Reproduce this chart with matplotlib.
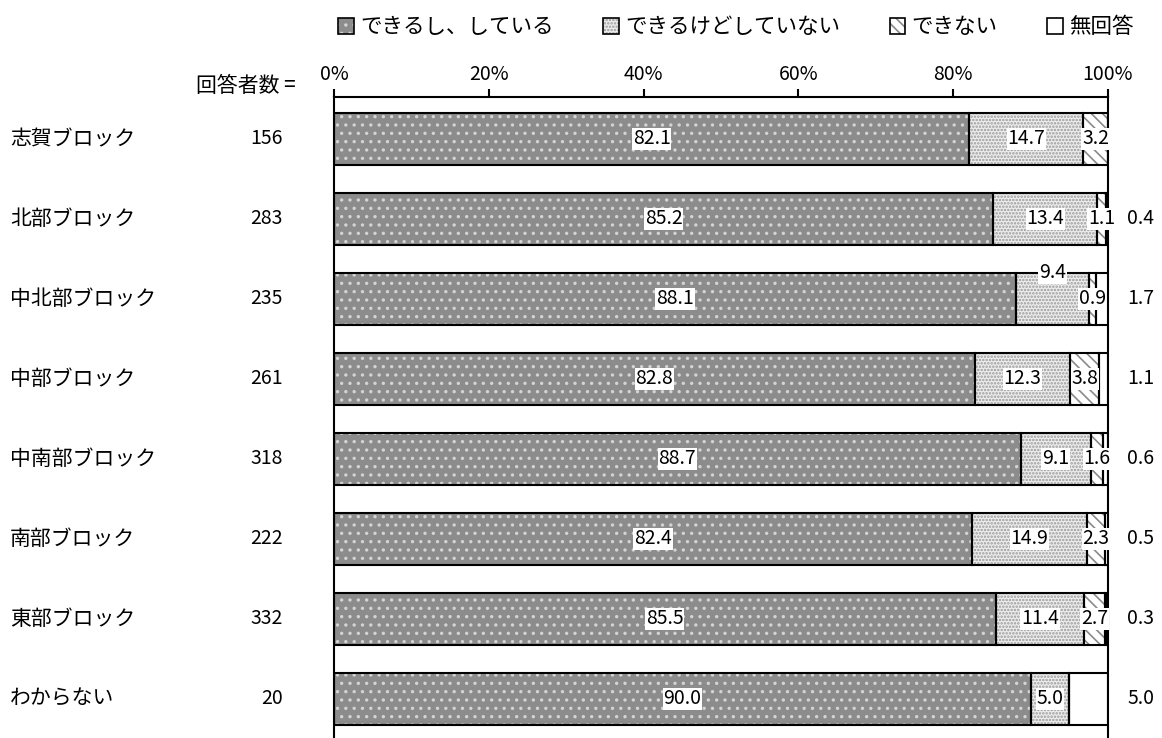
import matplotlib
matplotlib.use('Agg')
import matplotlib.pyplot as plt
from matplotlib.patches import Patch
from matplotlib.legend_handler import HandlerTuple
import numpy as np

plt.rcParams['font.family'] = ['Noto Sans CJK JP', 'DejaVu Sans']
plt.rcParams['hatch.linewidth'] = 1.2

# data
categories = ['志賀ブロック', '北部ブロック', '中北部ブロック', '中部ブロック',
              '中南部ブロック', '南部ブロック', '東部ブロック', 'わからない']
counts = [156, 283, 235, 261, 318, 222, 332, 20]
series_names = ['できるし、している', 'できるけどしていない', 'できない', '無回答']
doing = [82.1, 85.2, 88.1, 82.8, 88.7, 82.4, 85.5, 90.0]
can_not_doing = [14.7, 13.4, 9.4, 12.3, 9.1, 14.9, 11.4, 5.0]
cannot = [3.2, 1.1, 0.9, 3.8, 1.6, 2.3, 2.7, 0.0]
no_answer = [0.0, 0.4, 1.7, 1.1, 0.6, 0.5, 0.3, 5.0]
ticks = [0, 20, 40, 60, 80, 100]

values = [doing, can_not_doing, cannot, no_answer]
faces = ['#8c8c8c', '#ededed', 'white', 'white']
hatches = ['..', '.....', '\\\\\\', '']
hatch_colors = ['#d4d4d4', '#9a9a9a', '#8a8a8a', 'white']

fig = plt.figure(figsize=(11.62, 7.38), dpi=100)
ax = fig.add_axes([334 / 1162, 0, 774 / 1162, 1 - 97 / 738])

y = np.arange(len(categories))
left = np.zeros(len(categories))
handles = []
for vals, fc, h, hc in zip(values, faces, hatches, hatch_colors):
    vals = np.array(vals)
    ax.barh(y, vals, left=left, height=0.65, color=fc, hatch=h,
            edgecolor=hc, linewidth=0, zorder=2)
    ax.barh(y, vals, left=left, height=0.65, fill=False,
            edgecolor='black', linewidth=1.5, zorder=3)
    handles.append((Patch(facecolor=fc, hatch=h, edgecolor=hc, linewidth=0),
                    Patch(fill=False, edgecolor='black', linewidth=1.2)))
    left += vals

# value labels
fs = 14
box = dict(facecolor='white', edgecolor='none', pad=0.5)
for i in range(len(categories)):
    start = 0
    for k in range(3):
        v = values[k][i]
        if v > 0:
            yy = y[i]
            if k == 1 and i == 2:
                yy = y[i] - 0.33
            ax.text(start + v / 2, yy, f'{v:.1f}', ha='center', va='center',
                    fontsize=fs, bbox=box, zorder=5)
        start += v
    if no_answer[i] > 0:
        ax.text(104.2, y[i], f'{no_answer[i]:.1f}', ha='center', va='center',
                fontsize=fs, clip_on=False)

# left labels
for i, (c, n) in enumerate(zip(categories, counts)):
    ax.text(-0.4186, y[i], c, transform=ax.get_yaxis_transform(),
            ha='left', va='center', fontsize=15)
    ax.text(-0.066, y[i], str(n), transform=ax.get_yaxis_transform(),
            ha='right', va='center', fontsize=fs)
ax.text(-0.049, -0.66, '回答者数 =', transform=ax.get_yaxis_transform(),
        ha='right', va='center', fontsize=15)

ax.set_xlim(0, 100)
ax.set_ylim(7.49, -0.525)
ax.xaxis.tick_top()
ax.set_xticks(ticks)
ax.set_xticklabels([f'{t}%' for t in ticks], fontsize=fs)
ax.tick_params(axis='x', direction='out', length=6, width=1.5, pad=3)
ax.set_yticks([])
ax.spines['bottom'].set_visible(False)
for s in ['left', 'right', 'top']:
    ax.spines[s].set_linewidth(1.5)

fig.legend(handles, series_names, loc='upper right',
           bbox_to_anchor=(1153 / 1162, 1 + 3 / 738), ncol=4, frameon=False,
           fontsize=15.5, handlelength=0.72, handleheight=0.72,
           handletextpad=0.3, columnspacing=2.3,
           handler_map={tuple: HandlerTuple(ndivide=1)})

fig.savefig('out.png', dpi=100)
